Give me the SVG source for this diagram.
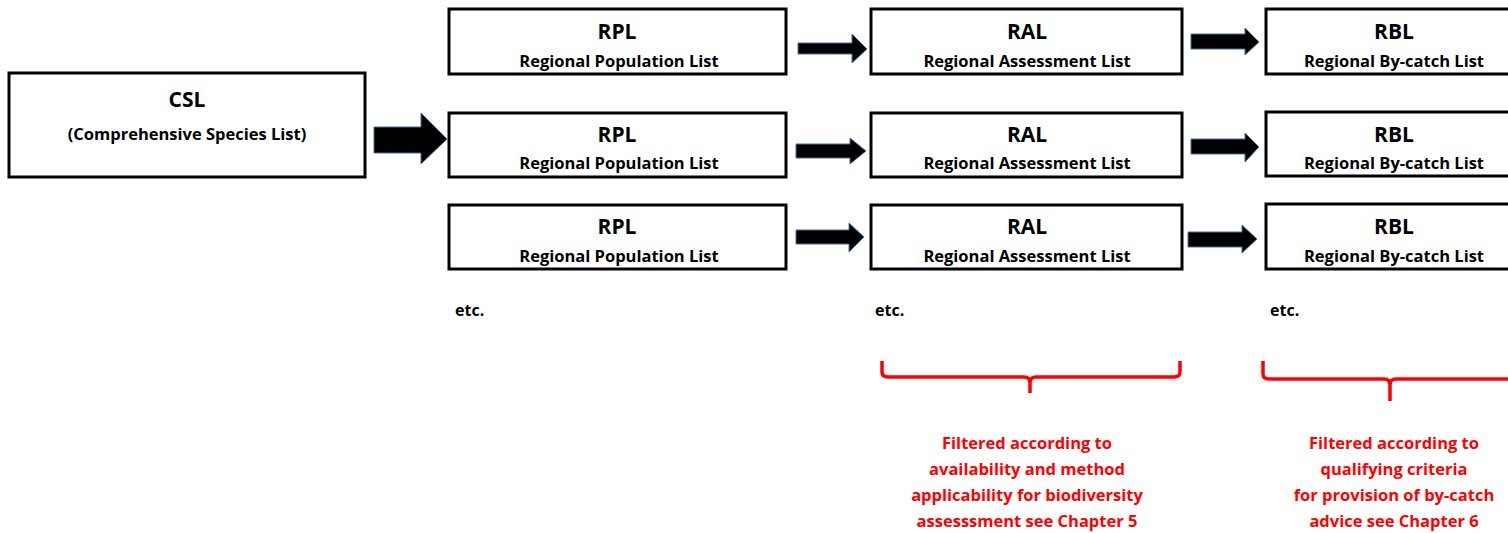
<svg xmlns="http://www.w3.org/2000/svg" width="1508" height="533" viewBox="0 0 1508 533">
<style>
.box{fill:#fff;stroke:#000;stroke-width:3}
.t{font-family:"Open Sans","Liberation Sans",sans-serif;font-weight:bold;fill:#000;text-anchor:middle}
.h{font-size:21px}
.s{font-size:16.5px}
.e{font-family:"Open Sans","Liberation Sans",sans-serif;font-weight:bold;font-size:16px;fill:#000}
.arr{fill:#000;stroke:#41719C;stroke-width:1}
.br{fill:none;stroke:#FF0000;stroke-width:3.5;stroke-linejoin:round}
.r{font-family:"Open Sans","Liberation Sans",sans-serif;font-weight:bold;font-size:16.5px;fill:#FF0000;text-anchor:middle}
</style>
<rect width="1508" height="533" fill="#fff"/>
<g id="csl"><rect class="box" x="9" y="73" width="356" height="104"/><text class="t h" x="187" y="107">CSL</text><text class="t s" x="187" y="140">(Comprehensive Species List)</text></g>
<g id="rpl1"><rect class="box" x="449" y="9" width="337" height="65"/><text class="t h" x="617" y="39">RPL</text><text class="t s" x="619" y="67">Regional Population List</text></g>
<g id="rpl2"><rect class="box" x="449" y="113" width="337" height="64"/><text class="t h" x="617" y="142">RPL</text><text class="t s" x="619" y="169">Regional Population List</text></g>
<g id="rpl3"><rect class="box" x="449" y="205" width="337" height="64"/><text class="t h" x="617" y="234">RPL</text><text class="t s" x="619" y="262">Regional Population List</text></g>
<g id="ral1"><rect class="box" x="871" y="9" width="311" height="65"/><text class="t h" x="1027" y="39">RAL</text><text class="t s" x="1027" y="67">Regional Assessment List</text></g>
<g id="ral2"><rect class="box" x="871" y="113" width="311" height="64"/><text class="t h" x="1027" y="142">RAL</text><text class="t s" x="1027" y="169">Regional Assessment List</text></g>
<g id="ral3"><rect class="box" x="871" y="205" width="311" height="64"/><text class="t h" x="1027" y="234">RAL</text><text class="t s" x="1027" y="262">Regional Assessment List</text></g>
<g id="rbl1"><rect class="box" x="1266" y="9" width="260" height="65"/><text class="t h" x="1394" y="39">RBL</text><text class="t s" x="1394" y="67">Regional By-catch List</text></g>
<g id="rbl2"><rect class="box" x="1266" y="112" width="260" height="64"/><text class="t h" x="1394" y="142">RBL</text><text class="t s" x="1394" y="169">Regional By-catch List</text></g>
<g id="rbl3"><rect class="box" x="1266" y="204" width="260" height="65"/><text class="t h" x="1394" y="234">RBL</text><text class="t s" x="1394" y="262">Regional By-catch List</text></g>
<g id="connectors">
<polygon class="arr" points="374,127 421,127 421,113 447,139 421,164 421,153 374,153"/>
<polygon class="arr" points="798,43 852,43 852,34 867,49 852,63 852,54 798,54"/>
<polygon class="arr" points="796,144 850,144 850,138 866,151 850,164 850,158 796,158"/>
<polygon class="arr" points="796,230 849,230 849,223 864,237 849,252 849,244 796,244"/>
<polygon class="arr" points="1191,34 1245,34 1245,28 1259,42 1245,55 1245,49 1191,49"/>
<polygon class="arr" points="1191,139 1245,139 1245,133 1259,147 1245,162 1245,154 1191,154"/>
<polygon class="arr" points="1188,232 1242,232 1242,225 1257,239 1242,253 1242,247 1188,247"/>
</g>
<g id="etc"><text class="e" x="455" y="316">etc.</text><text class="e" x="875" y="316">etc.</text><text class="e" x="1270" y="316">etc.</text></g>
<g id="brace1"><path class="br" d="M882,361 L882,372 Q882,377 888,377 L1024,377 Q1030,377 1030,383 L1030,393 M1030,383 Q1030,377 1036,377 L1174,377 Q1180,377 1180,372 L1180,361"/>
<text class="r" x="1027" y="449">Filtered according to</text><text class="r" x="1027" y="475">availability and method</text><text class="r" x="1027" y="501">applicability for biodiversity</text><text class="r" x="1027" y="527">assesssment see Chapter 5</text></g>
<g id="brace2"><path class="br" d="M1263,361 L1263,374 Q1263,379 1269,379 L1384,379 Q1390,379 1390,385 L1390,401 M1390,385 Q1390,379 1396,379 L1520,379"/>
<text class="r" x="1394" y="449">Filtered according to</text><text class="r" x="1394" y="475">qualifying criteria</text><text class="r" x="1394" y="501">for provision of by-catch</text><text class="r" x="1394" y="527">advice see Chapter 6</text></g>
</svg>
